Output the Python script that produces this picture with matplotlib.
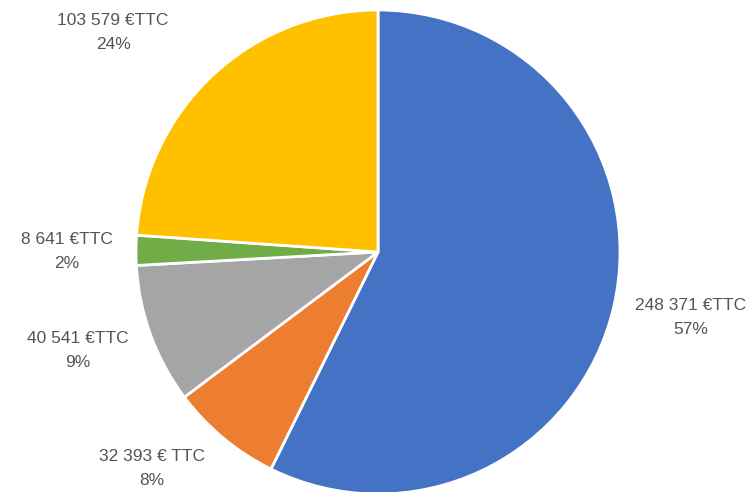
import matplotlib.pyplot as plt

amounts = [248371, 32393, 40541, 8641, 103579]
amount_labels = ["248 371 €TTC", "32 393 € TTC", "40 541 €TTC", "8 641 €TTC", "103 579 €TTC"]
pct_labels = ["57%", "8%", "9%", "2%", "24%"]
colors = ["#4472C4", "#ED7D31", "#A5A5A5", "#70AD47", "#FFC000"]

# label placement, in pie-radius units from the centre
label_xy = [(1.293, -0.269), (-0.934, -0.895), (-1.242, -0.405), (-1.285, 0.0), (-1.095, 0.905)]

fig = plt.figure(figsize=(7.51, 4.92), dpi=100)
ax = fig.add_axes([0, 0, 1, 1])

cx, cy, r = 378, 240, 242
ax.pie(amounts, colors=colors, startangle=90, counterclock=False,
       center=(cx, cy), radius=r, frame=True,
       wedgeprops=dict(edgecolor="white", linewidth=2))
ax.set_xlim(0, 751)
ax.set_ylim(0, 492)
ax.set_aspect("equal")
ax.axis("off")

for lab, pct, (dx, dy) in zip(amount_labels, pct_labels, label_xy):
    ax.text(cx + dx * r, cy + dy * r, f"{lab}\n{pct}", ha="center", va="center",
            multialignment="center", fontsize=12.5, color="#555555",
            family="Liberation Sans", linespacing=1.75)

fig.savefig("out.png", dpi=100)
